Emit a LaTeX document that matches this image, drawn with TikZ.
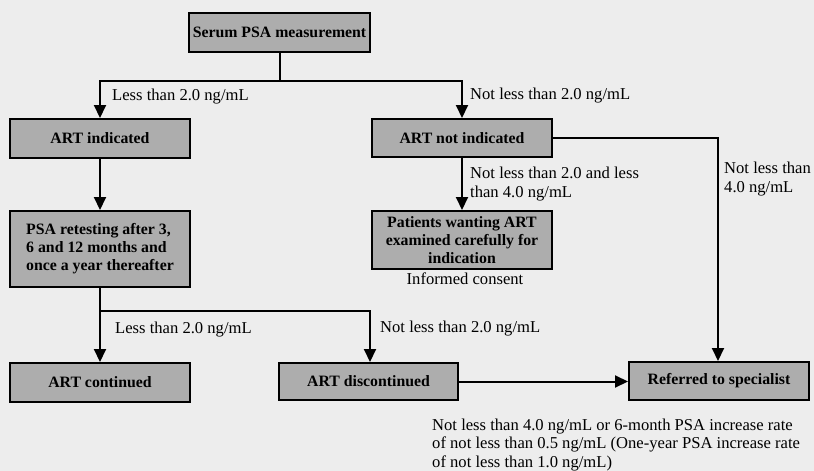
\documentclass[tikz,border=0pt]{standalone}
\usepackage{fontspec}
\setmainfont{Liberation Serif}
\usetikzlibrary{arrows.meta}
\definecolor{boxfill}{gray}{0.68}
\definecolor{paper}{gray}{0.93}
\tikzset{
  flowbox/.style={draw=black, line width=2pt, fill=boxfill, minimum width=180pt,
    inner sep=2pt, font=\fontsize{15.8}{18}\selectfont\bfseries, align=center},
  edgelabel/.style={anchor=west, inner sep=0pt, align=left,
    font=\fontsize{16.6}{19.5}\selectfont},
  link/.style={line width=2pt},
  arr/.style={line width=2pt, -{Triangle[width=12pt,length=13pt]}}
}
\begin{document}
\begin{tikzpicture}[x=1pt, y=-1pt]
  \fill[paper] (0,0) rectangle (814,471);
  \useasboundingbox (0,0) rectangle (814,471);

  % boxes
  \node[flowbox, minimum width=181pt, minimum height=39pt] (serum) at (279.5,32.5) {Serum PSA measurement};
  \node[flowbox, minimum height=39pt] (artind) at (100,138.5) {ART indicated};
  \node[flowbox, minimum height=76pt, align=left] (psa) at (100,249)
    {PSA retesting after 3,\\6 and 12 months and\\once a year thereafter};
  \node[flowbox, minimum height=38pt] (artnot) at (462,138) {ART not indicated};
  \node[flowbox, minimum height=58pt, inner sep=1pt] (patients) at (462,240)
    {Patients wanting ART\\examined carefully for\\indication};
  \node[font=\fontsize{16.6}{19}\selectfont, inner sep=0pt] (consent) at (465,279) {Informed consent};
  \node[flowbox, minimum height=39pt] (artcont) at (100,382.5) {ART continued};
  \node[flowbox, minimum width=179pt, minimum height=37pt] (artdisc) at (368.5,381.5) {ART discontinued};
  \node[flowbox, minimum height=38pt] (referred) at (719,381) {Referred to specialist};

  % branch points
  \coordinate (split1) at (279.5,81);
  \coordinate (split2) at (100,311);

  % connectors
  \draw[link] (serum.south) -- (split1);
  \draw[arr] (split1) -| (artind.north);
  \draw[arr] (split1) -| (artnot.north);
  \draw[arr] (artind) -- (psa);
  \draw[arr] (artnot) -- (patients);
  \draw[arr] (artnot.east) -| ([xshift=-1pt]referred.north);
  \draw[link] (psa.south) -- (split2);
  \draw[arr] (split2) -- (artcont.north);
  \draw[arr] (split2) -| ([xshift=1.5pt]artdisc.north);
  \draw[arr] (artdisc.east) -- (referred.west |- artdisc.east);

  % conditions
  \node[edgelabel] (l1) at (112,97) {Less than 2.0 ng/mL};
  \node[edgelabel] (l2) at (470,96) {Not less than 2.0 ng/mL};
  \node[edgelabel] (l3) at (470,184) {Not less than 2.0 and less\\than 4.0 ng/mL};
  \node[edgelabel, font=\fontsize{16.6}{18.5}\selectfont] (l4) at (724,179) {Not less than\\4.0 ng/mL};
  \node[edgelabel] (l5) at (115,330) {Less than 2.0 ng/mL};
  \node[edgelabel] (l6) at (380,329) {Not less than 2.0 ng/mL};
  \node[edgelabel, font=\fontsize{16.6}{18.5}\selectfont] (l7) at (432,445)
    {Not less than 4.0 ng/mL or 6-month PSA increase rate\\of not less than 0.5 ng/mL (One-year PSA increase rate\\of not less than 1.0 ng/mL)};
\end{tikzpicture}
\end{document}
